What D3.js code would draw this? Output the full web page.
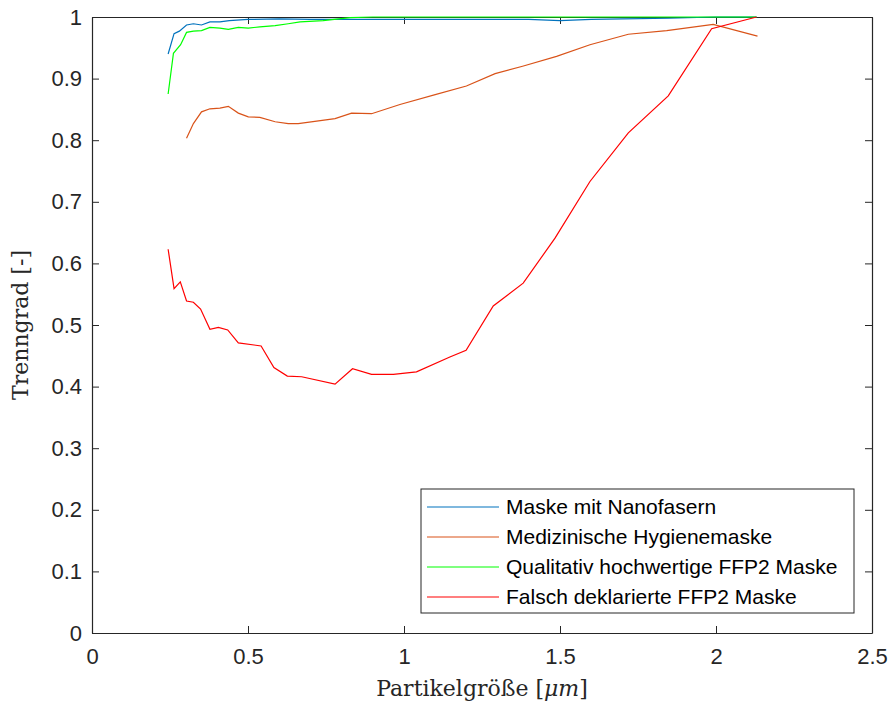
<!DOCTYPE html>
<html>
<head>
<meta charset="utf-8">
<script src="https://cdn.jsdelivr.net/npm/d3@7"></script>
<style>
  body { margin: 0; background: #fff; }
  .tick text { font-family: "Liberation Sans", Arial, sans-serif; font-size: 22px; fill: #262626; }
</style>
</head>
<body>
<div id="chart"></div>
<script>
// series data
var seriesNames = ["Maske mit Nanofasern", "Medizinische Hygienemaske",
                   "Qualitativ hochwertige FFP2 Maske", "Falsch deklarierte FFP2 Maske"];
var seriesColors = ["#0072BD", "#D95319", "#00FF00", "#FF0000"];

var nanoX = [0.244, 0.263, 0.280, 0.303, 0.325, 0.351, 0.378, 0.410, 0.44, 0.50, 0.60, 0.70, 0.80, 0.90, 1.0, 1.1, 1.2, 1.3, 1.4, 1.5, 1.6, 1.7, 1.85, 2.0, 2.13];
var nanoY = [0.940, 0.973, 0.977, 0.987, 0.989, 0.987, 0.992, 0.992, 0.994, 0.996, 0.997, 0.996, 0.996, 0.996, 0.996, 0.996, 0.996, 0.996, 0.996, 0.994, 0.996, 0.997, 0.998, 1.0, 1.0];

var medX = [0.303, 0.325, 0.351, 0.378, 0.410, 0.437, 0.469, 0.501, 0.538, 0.587, 0.629, 0.661, 0.720, 0.779, 0.832, 0.896, 0.987, 1.1, 1.2, 1.292, 1.38, 1.489, 1.596, 1.719, 1.842, 1.991, 2.133];
var medY = [0.803, 0.827, 0.846, 0.851, 0.852, 0.855, 0.844, 0.838, 0.837, 0.830, 0.827, 0.827, 0.831, 0.835, 0.844, 0.843, 0.858, 0.874, 0.888, 0.908, 0.920, 0.936, 0.955, 0.972, 0.978, 0.988, 0.969];

var ffpX = [0.244, 0.261, 0.284, 0.303, 0.325, 0.351, 0.378, 0.410, 0.437, 0.469, 0.501, 0.538, 0.587, 0.629, 0.667, 0.741, 0.827, 0.9, 1.0, 1.2, 1.4, 1.6, 1.8, 2.0, 2.13];
var ffpY = [0.875, 0.941, 0.955, 0.975, 0.977, 0.978, 0.983, 0.982, 0.980, 0.983, 0.982, 0.984, 0.986, 0.989, 0.992, 0.994, 0.999, 1.0, 1.0, 1.0, 1.0, 1.0, 1.0, 1.0, 1.0];

var fakeX = [0.244, 0.263, 0.283, 0.303, 0.325, 0.348, 0.378, 0.405, 0.435, 0.469, 0.542, 0.583, 0.626, 0.672, 0.779, 0.835, 0.896, 0.966, 1.040, 1.147, 1.199, 1.286, 1.382, 1.484, 1.596, 1.719, 1.847, 1.986, 2.13];
var fakeY = [0.623, 0.559, 0.570, 0.539, 0.537, 0.526, 0.493, 0.496, 0.492, 0.471, 0.466, 0.431, 0.417, 0.416, 0.404, 0.429, 0.420, 0.420, 0.424, 0.448, 0.459, 0.531, 0.568, 0.641, 0.733, 0.812, 0.872, 0.981, 1.0];

var xTicks = [0, 0.5, 1, 1.5, 2, 2.5];
var yTicks = [0, 0.1, 0.2, 0.3, 0.4, 0.5, 0.6, 0.7, 0.8, 0.9, 1];

var allX = [nanoX, medX, ffpX, fakeX];
var allY = [nanoY, medY, ffpY, fakeY];

var W = 891, H = 704;
var margin = { top: 17, right: 19, bottom: 71, left: 92 },
    width = W - margin.left - margin.right,
    height = H - margin.top - margin.bottom;

var svg = d3.select("#chart").append("svg")
    .attr("width", W)
    .attr("height", H)
  .append("g")
    .attr("transform", "translate(" + margin.left + "," + margin.top + ")");

var x = d3.scaleLinear().domain([0, 2.5]).range([0, width]);
var y = d3.scaleLinear().domain([0, 1]).range([height, 0]);

var axisColor = "#262626";
var fmt = d3.format("");

// bottom / left with labels, top / right ticks only
svg.append("g")
    .attr("transform", "translate(0," + height + ")")
    .call(d3.axisBottom(x).tickValues(xTicks).tickFormat(fmt).tickSizeInner(-7).tickSizeOuter(0).tickPadding(15));
svg.append("g")
    .call(d3.axisLeft(y).tickValues(yTicks).tickFormat(fmt).tickSizeInner(-7).tickSizeOuter(0).tickPadding(10));
svg.append("g")
    .call(d3.axisTop(x).tickValues(xTicks).tickFormat("").tickSizeInner(-7).tickSizeOuter(0));
svg.append("g")
    .attr("transform", "translate(" + width + ",0)")
    .call(d3.axisRight(y).tickValues(yTicks).tickFormat("").tickSizeInner(-7).tickSizeOuter(0));

svg.selectAll(".domain").attr("stroke", axisColor).attr("stroke-width", 1.2);
svg.selectAll(".tick line").attr("stroke", axisColor);

var line = d3.line()
    .x(function(d) { return x(d[0]); })
    .y(function(d) { return y(d[1]); });

allX.forEach(function(xs, k) {
    var pts = xs.map(function(v, i) { return [v, allY[k][i]]; });
    svg.append("path")
        .datum(pts)
        .attr("fill", "none")
        .attr("stroke", seriesColors[k])
        .attr("stroke-width", 1.2)
        .attr("d", line);
});

// legend
var lg = svg.append("g").attr("transform", "translate(" + (421 - margin.left) + "," + (489 - margin.top) + ")");
lg.append("rect")
    .attr("width", 433).attr("height", 124)
    .attr("fill", "#fff").attr("stroke", axisColor).attr("stroke-width", 1);
seriesNames.forEach(function(name, i) {
    var yy = 18 + i * 30;
    lg.append("line")
        .attr("x1", 6).attr("x2", 78).attr("y1", yy).attr("y2", yy)
        .attr("stroke", seriesColors[i]).attr("stroke-width", 1.2);
    lg.append("text")
        .attr("x", 85).attr("y", yy).attr("dy", "0.35em")
        .style("font-family", "'Liberation Sans', Arial, sans-serif")
        .style("font-size", "21px").style("fill", "#000")
        .text(name);
});

// axis labels (serif, like LaTeX)
var xl = svg.append("text")
    .attr("x", width / 2).attr("y", height + 63)
    .attr("text-anchor", "middle")
    .style("font-family", "'DejaVu Serif', 'Liberation Serif', serif")
    .style("font-size", "22px").style("fill", "#262626");
xl.append("tspan").text("Partikelgröße [");
xl.append("tspan").style("font-style", "italic").text("μm");
xl.append("tspan").text("]");

svg.append("text")
    .attr("transform", "translate(" + (-64) + "," + (height / 2) + ") rotate(-90)")
    .attr("text-anchor", "middle")
    .style("font-family", "'DejaVu Serif', 'Liberation Serif', serif")
    .style("font-size", "22px").style("fill", "#262626")
    .text("Trenngrad [-]");
</script>
</body>
</html>
